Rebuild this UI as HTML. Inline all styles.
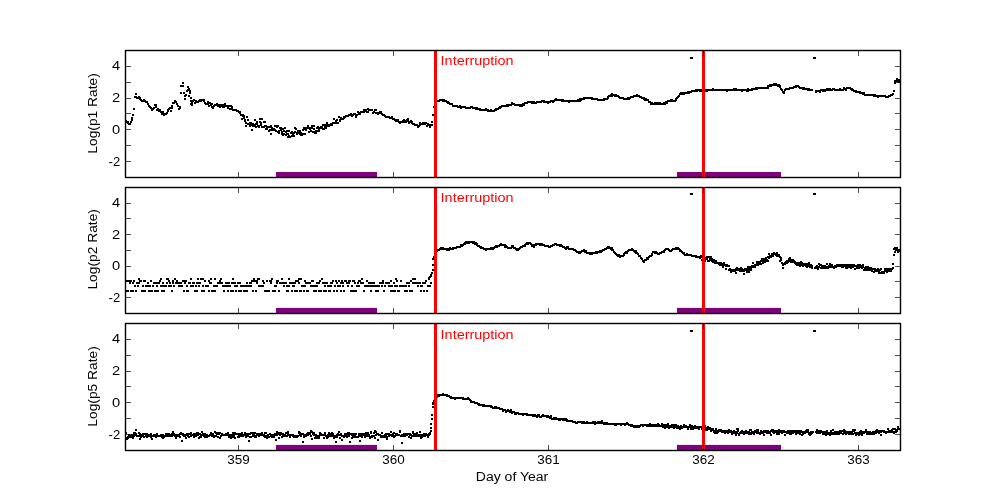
<!DOCTYPE html>
<html><head><meta charset="utf-8"><style>
html,body{margin:0;padding:0;background:#fff;width:1000px;height:500px;overflow:hidden}
svg{display:block}
text{font-family:"Liberation Sans",sans-serif}
</style></head><body>
<svg width="1000" height="500" viewBox="0 0 1000 500">
<path d="M125 120h2v2h-2zM125 290h2v2h-2zM125 432h2v2h-2zM126 121h2v2h-2zM126 280h2v2h-2zM126 290h2v2h-2zM126 437h2v2h-2zM126 438h2v2h-2zM127 121h2v2h-2zM127 122h2v2h-2zM127 290h2v2h-2zM127 436h2v2h-2zM127 437h2v2h-2zM128 123h2v2h-2zM128 280h2v2h-2zM128 434h2v2h-2zM129 123h2v2h-2zM129 282h2v2h-2zM129 435h2v2h-2zM129 436h2v2h-2zM130 121h2v2h-2zM130 280h2v2h-2zM130 290h2v2h-2zM130 436h2v2h-2zM131 117h2v2h-2zM131 119h2v2h-2zM131 290h2v2h-2zM131 434h2v2h-2zM131 436h2v2h-2zM132 114h2v2h-2zM132 282h2v2h-2zM132 290h2v2h-2zM132 434h2v2h-2zM132 437h2v2h-2zM133 108h2v2h-2zM133 280h2v2h-2zM133 432h2v2h-2zM133 435h2v2h-2zM134 96h2v2h-2zM134 285h2v2h-2zM134 432h2v2h-2zM134 434h2v2h-2zM135 93h2v2h-2zM135 96h2v2h-2zM135 290h2v2h-2zM135 429h2v2h-2zM135 433h2v2h-2zM136 97h2v2h-2zM136 282h2v2h-2zM136 435h2v2h-2zM137 97h2v2h-2zM137 285h2v2h-2zM137 435h2v2h-2zM138 96h2v2h-2zM138 278h2v2h-2zM138 282h2v2h-2zM138 432h2v2h-2zM138 435h2v2h-2zM139 97h2v2h-2zM139 98h2v2h-2zM139 280h2v2h-2zM139 433h2v2h-2zM139 438h2v2h-2zM140 99h2v2h-2zM140 280h2v2h-2zM140 434h2v2h-2zM140 436h2v2h-2zM141 100h2v2h-2zM141 290h2v2h-2zM141 435h2v2h-2zM142 100h2v2h-2zM142 285h2v2h-2zM142 290h2v2h-2zM142 433h2v2h-2zM142 435h2v2h-2zM143 99h2v2h-2zM143 100h2v2h-2zM143 280h2v2h-2zM143 433h2v2h-2zM143 436h2v2h-2zM144 100h2v2h-2zM144 280h2v2h-2zM144 290h2v2h-2zM144 433h2v2h-2zM145 101h2v2h-2zM145 285h2v2h-2zM145 433h2v2h-2zM145 435h2v2h-2zM146 101h2v2h-2zM146 285h2v2h-2zM146 433h2v2h-2zM146 436h2v2h-2zM147 103h2v2h-2zM147 282h2v2h-2zM147 435h2v2h-2zM148 105h2v2h-2zM148 285h2v2h-2zM148 290h2v2h-2zM148 434h2v2h-2zM149 106h2v2h-2zM149 285h2v2h-2zM149 434h2v2h-2zM149 435h2v2h-2zM150 107h2v2h-2zM150 280h2v2h-2zM150 290h2v2h-2zM150 433h2v2h-2zM150 436h2v2h-2zM151 108h2v2h-2zM151 109h2v2h-2zM151 290h2v2h-2zM151 435h2v2h-2zM151 438h2v2h-2zM152 108h2v2h-2zM152 285h2v2h-2zM152 435h2v2h-2zM153 107h2v2h-2zM153 282h2v2h-2zM153 434h2v2h-2zM153 435h2v2h-2zM154 104h2v2h-2zM154 282h2v2h-2zM154 290h2v2h-2zM154 434h2v2h-2zM154 435h2v2h-2zM155 104h2v2h-2zM155 106h2v2h-2zM155 290h2v2h-2zM155 435h2v2h-2zM155 436h2v2h-2zM156 109h2v2h-2zM156 282h2v2h-2zM156 285h2v2h-2zM156 433h2v2h-2zM156 434h2v2h-2zM157 108h2v2h-2zM157 290h2v2h-2zM157 435h2v2h-2zM158 110h2v2h-2zM158 282h2v2h-2zM158 435h2v2h-2zM159 109h2v2h-2zM159 110h2v2h-2zM159 280h2v2h-2zM159 435h2v2h-2zM160 111h2v2h-2zM160 278h2v2h-2zM160 285h2v2h-2zM160 434h2v2h-2zM161 113h2v2h-2zM161 290h2v2h-2zM161 434h2v2h-2zM161 436h2v2h-2zM162 111h2v2h-2zM162 282h2v2h-2zM162 285h2v2h-2zM162 434h2v2h-2zM162 437h2v2h-2zM163 113h2v2h-2zM163 114h2v2h-2zM163 290h2v2h-2zM163 436h2v2h-2zM164 113h2v2h-2zM164 285h2v2h-2zM164 435h2v2h-2zM165 113h2v2h-2zM165 285h2v2h-2zM165 433h2v2h-2zM165 434h2v2h-2zM166 112h2v2h-2zM166 278h2v2h-2zM166 282h2v2h-2zM166 434h2v2h-2zM166 435h2v2h-2zM167 109h2v2h-2zM167 110h2v2h-2zM167 278h2v2h-2zM167 433h2v2h-2zM167 435h2v2h-2zM168 108h2v2h-2zM168 280h2v2h-2zM168 285h2v2h-2zM168 433h2v2h-2zM168 434h2v2h-2zM169 107h2v2h-2zM169 282h2v2h-2zM169 435h2v2h-2zM170 110h2v2h-2zM170 285h2v2h-2zM170 434h2v2h-2zM170 435h2v2h-2zM171 105h2v2h-2zM171 107h2v2h-2zM171 290h2v2h-2zM171 433h2v2h-2zM171 435h2v2h-2zM172 102h2v2h-2zM172 280h2v2h-2zM172 282h2v2h-2zM172 431h2v2h-2zM172 434h2v2h-2zM173 102h2v2h-2zM173 285h2v2h-2zM173 433h2v2h-2zM173 434h2v2h-2zM174 100h2v2h-2zM174 278h2v2h-2zM174 435h2v2h-2zM175 101h2v2h-2zM175 282h2v2h-2zM175 434h2v2h-2zM175 437h2v2h-2zM176 103h2v2h-2zM176 280h2v2h-2zM176 434h2v2h-2zM176 435h2v2h-2zM177 105h2v2h-2zM177 282h2v2h-2zM177 434h2v2h-2zM178 108h2v2h-2zM178 282h2v2h-2zM178 285h2v2h-2zM178 435h2v2h-2zM179 106h2v2h-2zM179 107h2v2h-2zM179 285h2v2h-2zM179 433h2v2h-2zM179 436h2v2h-2zM180 85h2v2h-2zM180 92h2v2h-2zM180 282h2v2h-2zM180 285h2v2h-2zM180 432h2v2h-2zM181 285h2v2h-2zM181 433h2v2h-2zM181 440h2v2h-2zM182 82h2v2h-2zM182 85h2v2h-2zM182 280h2v2h-2zM182 433h2v2h-2zM182 434h2v2h-2zM183 92h2v2h-2zM183 290h2v2h-2zM183 435h2v2h-2zM184 95h2v2h-2zM184 98h2v2h-2zM184 280h2v2h-2zM184 282h2v2h-2zM184 434h2v2h-2zM184 435h2v2h-2zM185 94h2v2h-2zM185 280h2v2h-2zM185 437h2v2h-2zM186 90h2v2h-2zM186 285h2v2h-2zM186 290h2v2h-2zM186 433h2v2h-2zM186 434h2v2h-2zM187 86h2v2h-2zM187 89h2v2h-2zM187 290h2v2h-2zM187 434h2v2h-2zM187 435h2v2h-2zM188 88h2v2h-2zM188 95h2v2h-2zM188 282h2v2h-2zM188 433h2v2h-2zM188 436h2v2h-2zM189 90h2v2h-2zM189 92h2v2h-2zM189 282h2v2h-2zM189 433h2v2h-2zM190 97h2v2h-2zM190 100h2v2h-2zM190 103h2v2h-2zM190 278h2v2h-2zM190 285h2v2h-2zM190 432h2v2h-2zM190 435h2v2h-2zM191 102h2v2h-2zM191 104h2v2h-2zM191 285h2v2h-2zM191 434h2v2h-2zM192 100h2v2h-2zM192 282h2v2h-2zM192 285h2v2h-2zM192 434h2v2h-2zM193 99h2v2h-2zM193 282h2v2h-2zM193 433h2v2h-2zM193 436h2v2h-2zM194 102h2v2h-2zM194 290h2v2h-2zM194 433h2v2h-2zM194 434h2v2h-2zM195 100h2v2h-2zM195 285h2v2h-2zM195 434h2v2h-2zM195 435h2v2h-2zM196 101h2v2h-2zM196 282h2v2h-2zM196 290h2v2h-2zM196 432h2v2h-2zM197 101h2v2h-2zM197 278h2v2h-2zM197 432h2v2h-2zM197 434h2v2h-2zM198 100h2v2h-2zM198 282h2v2h-2zM198 285h2v2h-2zM198 433h2v2h-2zM198 437h2v2h-2zM199 99h2v2h-2zM199 282h2v2h-2zM199 433h2v2h-2zM199 436h2v2h-2zM200 100h2v2h-2zM200 278h2v2h-2zM200 435h2v2h-2zM200 436h2v2h-2zM201 99h2v2h-2zM201 290h2v2h-2zM201 431h2v2h-2zM201 434h2v2h-2zM202 99h2v2h-2zM202 278h2v2h-2zM202 285h2v2h-2zM202 433h2v2h-2zM203 99h2v2h-2zM203 100h2v2h-2zM203 290h2v2h-2zM203 435h2v2h-2zM204 102h2v2h-2zM204 280h2v2h-2zM204 433h2v2h-2zM204 436h2v2h-2zM205 103h2v2h-2zM205 285h2v2h-2zM205 434h2v2h-2zM205 436h2v2h-2zM206 103h2v2h-2zM206 285h2v2h-2zM206 434h2v2h-2zM206 436h2v2h-2zM207 101h2v2h-2zM207 103h2v2h-2zM207 285h2v2h-2zM207 435h2v2h-2zM208 105h2v2h-2zM208 280h2v2h-2zM208 290h2v2h-2zM208 435h2v2h-2zM209 102h2v2h-2zM209 282h2v2h-2zM209 434h2v2h-2zM210 104h2v2h-2zM210 278h2v2h-2zM210 282h2v2h-2zM210 432h2v2h-2zM211 103h2v2h-2zM211 106h2v2h-2zM211 290h2v2h-2zM211 434h2v2h-2zM211 435h2v2h-2zM212 107h2v2h-2zM212 290h2v2h-2zM212 433h2v2h-2zM212 435h2v2h-2zM213 105h2v2h-2zM213 285h2v2h-2zM213 436h2v2h-2zM214 104h2v2h-2zM214 278h2v2h-2zM214 290h2v2h-2zM214 431h2v2h-2zM214 435h2v2h-2zM215 104h2v2h-2zM215 285h2v2h-2zM215 432h2v2h-2zM215 435h2v2h-2zM216 103h2v2h-2zM216 285h2v2h-2zM216 432h2v2h-2zM216 433h2v2h-2zM217 105h2v2h-2zM217 282h2v2h-2zM217 432h2v2h-2zM217 436h2v2h-2zM218 104h2v2h-2zM218 282h2v2h-2zM218 433h2v2h-2zM219 104h2v2h-2zM219 106h2v2h-2zM219 280h2v2h-2zM219 432h2v2h-2zM219 437h2v2h-2zM220 105h2v2h-2zM220 278h2v2h-2zM220 282h2v2h-2zM220 435h2v2h-2zM221 104h2v2h-2zM221 282h2v2h-2zM221 433h2v2h-2zM221 434h2v2h-2zM222 106h2v2h-2zM222 285h2v2h-2zM222 434h2v2h-2zM223 104h2v2h-2zM223 106h2v2h-2zM223 290h2v2h-2zM223 434h2v2h-2zM224 103h2v2h-2zM224 285h2v2h-2zM224 434h2v2h-2zM225 105h2v2h-2zM225 282h2v2h-2zM225 433h2v2h-2zM226 105h2v2h-2zM226 282h2v2h-2zM226 285h2v2h-2zM226 433h2v2h-2zM226 434h2v2h-2zM227 105h2v2h-2zM227 107h2v2h-2zM227 290h2v2h-2zM227 432h2v2h-2zM227 434h2v2h-2zM228 105h2v2h-2zM228 282h2v2h-2zM228 285h2v2h-2zM228 434h2v2h-2zM228 436h2v2h-2zM229 108h2v2h-2zM229 285h2v2h-2zM229 435h2v2h-2zM230 105h2v2h-2zM230 290h2v2h-2zM230 434h2v2h-2zM230 437h2v2h-2zM231 106h2v2h-2zM231 108h2v2h-2zM231 282h2v2h-2zM231 434h2v2h-2zM231 436h2v2h-2zM232 109h2v2h-2zM232 278h2v2h-2zM232 290h2v2h-2zM232 432h2v2h-2zM232 433h2v2h-2zM233 109h2v2h-2zM233 282h2v2h-2zM233 434h2v2h-2zM233 436h2v2h-2zM234 109h2v2h-2zM234 282h2v2h-2zM234 285h2v2h-2zM234 432h2v2h-2zM234 437h2v2h-2zM235 109h2v2h-2zM235 290h2v2h-2zM235 433h2v2h-2zM236 110h2v2h-2zM236 285h2v2h-2zM236 433h2v2h-2zM237 110h2v2h-2zM237 282h2v2h-2zM237 433h2v2h-2zM237 436h2v2h-2zM238 111h2v2h-2zM238 282h2v2h-2zM238 290h2v2h-2zM238 434h2v2h-2zM238 436h2v2h-2zM239 111h2v2h-2zM239 112h2v2h-2zM239 282h2v2h-2zM239 433h2v2h-2zM239 434h2v2h-2zM240 114h2v2h-2zM240 285h2v2h-2zM240 290h2v2h-2zM240 435h2v2h-2zM241 114h2v2h-2zM241 118h2v2h-2zM241 285h2v2h-2zM241 432h2v2h-2zM241 434h2v2h-2zM242 114h2v2h-2zM242 115h2v2h-2zM242 285h2v2h-2zM242 435h2v2h-2zM243 115h2v2h-2zM243 117h2v2h-2zM243 290h2v2h-2zM243 434h2v2h-2zM244 119h2v2h-2zM244 120h2v2h-2zM244 285h2v2h-2zM244 290h2v2h-2zM244 432h2v2h-2zM244 433h2v2h-2zM245 122h2v2h-2zM245 125h2v2h-2zM245 285h2v2h-2zM245 434h2v2h-2zM245 436h2v2h-2zM246 116h2v2h-2zM246 282h2v2h-2zM246 290h2v2h-2zM246 433h2v2h-2zM247 119h2v2h-2zM247 123h2v2h-2zM247 285h2v2h-2zM247 434h2v2h-2zM247 435h2v2h-2zM248 123h2v2h-2zM248 285h2v2h-2zM248 433h2v2h-2zM248 440h2v2h-2zM249 122h2v2h-2zM249 125h2v2h-2zM249 282h2v2h-2zM249 433h2v2h-2zM249 436h2v2h-2zM250 122h2v2h-2zM250 124h2v2h-2zM250 282h2v2h-2zM250 285h2v2h-2zM250 432h2v2h-2zM250 436h2v2h-2zM251 129h2v2h-2zM251 280h2v2h-2zM251 432h2v2h-2zM252 123h2v2h-2zM252 125h2v2h-2zM252 280h2v2h-2zM252 290h2v2h-2zM252 433h2v2h-2zM252 435h2v2h-2zM253 124h2v2h-2zM253 278h2v2h-2zM253 432h2v2h-2zM253 434h2v2h-2zM254 119h2v2h-2zM254 125h2v2h-2zM254 280h2v2h-2zM254 432h2v2h-2zM254 436h2v2h-2zM255 123h2v2h-2zM255 126h2v2h-2zM255 290h2v2h-2zM255 435h2v2h-2zM255 436h2v2h-2zM256 121h2v2h-2zM256 123h2v2h-2zM256 280h2v2h-2zM256 282h2v2h-2zM256 433h2v2h-2zM256 434h2v2h-2zM257 125h2v2h-2zM257 278h2v2h-2zM257 434h2v2h-2zM258 125h2v2h-2zM258 126h2v2h-2zM258 278h2v2h-2zM258 285h2v2h-2zM258 433h2v2h-2zM258 435h2v2h-2zM259 118h2v2h-2zM259 121h2v2h-2zM259 285h2v2h-2zM259 434h2v2h-2zM260 122h2v2h-2zM260 124h2v2h-2zM260 285h2v2h-2zM260 433h2v2h-2zM260 434h2v2h-2zM261 118h2v2h-2zM261 126h2v2h-2zM261 285h2v2h-2zM261 432h2v2h-2zM261 433h2v2h-2zM262 126h2v2h-2zM262 280h2v2h-2zM262 285h2v2h-2zM262 434h2v2h-2zM263 121h2v2h-2zM263 126h2v2h-2zM263 282h2v2h-2zM263 434h2v2h-2zM263 435h2v2h-2zM264 121h2v2h-2zM264 125h2v2h-2zM264 290h2v2h-2zM264 432h2v2h-2zM264 436h2v2h-2zM265 125h2v2h-2zM265 128h2v2h-2zM265 290h2v2h-2zM265 432h2v2h-2zM265 435h2v2h-2zM266 126h2v2h-2zM266 128h2v2h-2zM266 280h2v2h-2zM266 436h2v2h-2zM266 437h2v2h-2zM267 126h2v2h-2zM267 290h2v2h-2zM267 434h2v2h-2zM268 130h2v2h-2zM268 290h2v2h-2zM268 436h2v2h-2zM269 126h2v2h-2zM269 129h2v2h-2zM269 280h2v2h-2zM269 433h2v2h-2zM270 125h2v2h-2zM270 133h2v2h-2zM270 280h2v2h-2zM270 282h2v2h-2zM270 434h2v2h-2zM270 435h2v2h-2zM271 127h2v2h-2zM271 129h2v2h-2zM271 278h2v2h-2zM271 434h2v2h-2zM271 436h2v2h-2zM272 128h2v2h-2zM272 129h2v2h-2zM272 290h2v2h-2zM272 434h2v2h-2zM272 435h2v2h-2zM273 128h2v2h-2zM273 290h2v2h-2zM273 436h2v2h-2zM274 125h2v2h-2zM274 129h2v2h-2zM274 285h2v2h-2zM274 290h2v2h-2zM274 433h2v2h-2zM274 434h2v2h-2zM275 125h2v2h-2zM275 130h2v2h-2zM275 285h2v2h-2zM275 433h2v2h-2zM275 439h2v2h-2zM276 126h2v2h-2zM276 280h2v2h-2zM276 282h2v2h-2zM276 431h2v2h-2zM276 434h2v2h-2zM277 125h2v2h-2zM277 131h2v2h-2zM277 280h2v2h-2zM277 433h2v2h-2zM278 130h2v2h-2zM278 132h2v2h-2zM278 290h2v2h-2zM278 432h2v2h-2zM278 437h2v2h-2zM279 127h2v2h-2zM279 282h2v2h-2zM279 434h2v2h-2zM280 127h2v2h-2zM280 129h2v2h-2zM280 282h2v2h-2zM280 432h2v2h-2zM280 433h2v2h-2zM281 131h2v2h-2zM281 133h2v2h-2zM281 278h2v2h-2zM281 433h2v2h-2zM281 436h2v2h-2zM282 128h2v2h-2zM282 134h2v2h-2zM282 282h2v2h-2zM282 433h2v2h-2zM282 435h2v2h-2zM283 130h2v2h-2zM283 133h2v2h-2zM283 285h2v2h-2zM283 434h2v2h-2zM283 435h2v2h-2zM284 127h2v2h-2zM284 282h2v2h-2zM284 434h2v2h-2zM285 131h2v2h-2zM285 134h2v2h-2zM285 282h2v2h-2zM285 432h2v2h-2zM285 435h2v2h-2zM286 130h2v2h-2zM286 133h2v2h-2zM286 285h2v2h-2zM286 290h2v2h-2zM286 435h2v2h-2zM287 133h2v2h-2zM287 136h2v2h-2zM287 290h2v2h-2zM287 431h2v2h-2zM287 433h2v2h-2zM288 130h2v2h-2zM288 135h2v2h-2zM288 278h2v2h-2zM288 285h2v2h-2zM288 434h2v2h-2zM289 136h2v2h-2zM289 282h2v2h-2zM289 434h2v2h-2zM289 436h2v2h-2zM290 132h2v2h-2zM290 282h2v2h-2zM290 434h2v2h-2zM291 131h2v2h-2zM291 135h2v2h-2zM291 290h2v2h-2zM291 434h2v2h-2zM292 133h2v2h-2zM292 282h2v2h-2zM292 285h2v2h-2zM292 434h2v2h-2zM292 435h2v2h-2zM293 132h2v2h-2zM293 135h2v2h-2zM293 285h2v2h-2zM293 435h2v2h-2zM293 436h2v2h-2zM294 127h2v2h-2zM294 131h2v2h-2zM294 282h2v2h-2zM294 290h2v2h-2zM294 435h2v2h-2zM294 436h2v2h-2zM295 128h2v2h-2zM295 280h2v2h-2zM295 436h2v2h-2zM296 132h2v2h-2zM296 133h2v2h-2zM296 290h2v2h-2zM296 435h2v2h-2zM296 436h2v2h-2zM297 130h2v2h-2zM297 131h2v2h-2zM297 280h2v2h-2zM297 435h2v2h-2zM298 130h2v2h-2zM298 132h2v2h-2zM298 278h2v2h-2zM298 282h2v2h-2zM298 431h2v2h-2zM298 432h2v2h-2zM299 130h2v2h-2zM299 133h2v2h-2zM299 290h2v2h-2zM299 432h2v2h-2zM299 434h2v2h-2zM300 132h2v2h-2zM300 134h2v2h-2zM300 278h2v2h-2zM300 290h2v2h-2zM300 434h2v2h-2zM300 435h2v2h-2zM301 134h2v2h-2zM301 285h2v2h-2zM301 433h2v2h-2zM302 129h2v2h-2zM302 133h2v2h-2zM302 285h2v2h-2zM302 433h2v2h-2zM302 441h2v2h-2zM303 127h2v2h-2zM303 128h2v2h-2zM303 290h2v2h-2zM303 435h2v2h-2zM303 436h2v2h-2zM304 127h2v2h-2zM304 133h2v2h-2zM304 280h2v2h-2zM304 285h2v2h-2zM304 434h2v2h-2zM305 127h2v2h-2zM305 129h2v2h-2zM305 282h2v2h-2zM305 434h2v2h-2zM305 435h2v2h-2zM306 127h2v2h-2zM306 282h2v2h-2zM306 290h2v2h-2zM306 433h2v2h-2zM307 125h2v2h-2zM307 127h2v2h-2zM307 290h2v2h-2zM307 432h2v2h-2zM307 434h2v2h-2zM308 127h2v2h-2zM308 131h2v2h-2zM308 282h2v2h-2zM308 433h2v2h-2zM309 127h2v2h-2zM309 128h2v2h-2zM309 282h2v2h-2zM309 432h2v2h-2zM309 433h2v2h-2zM310 127h2v2h-2zM310 130h2v2h-2zM310 285h2v2h-2zM310 430h2v2h-2zM310 435h2v2h-2zM311 125h2v2h-2zM311 127h2v2h-2zM311 280h2v2h-2zM311 431h2v2h-2zM311 438h2v2h-2zM312 131h2v2h-2zM312 280h2v2h-2zM312 285h2v2h-2zM312 433h2v2h-2zM313 125h2v2h-2zM313 128h2v2h-2zM313 290h2v2h-2zM313 432h2v2h-2zM313 434h2v2h-2zM314 131h2v2h-2zM314 132h2v2h-2zM314 285h2v2h-2zM314 434h2v2h-2zM314 437h2v2h-2zM315 130h2v2h-2zM315 132h2v2h-2zM315 290h2v2h-2zM315 434h2v2h-2zM315 436h2v2h-2zM316 127h2v2h-2zM316 130h2v2h-2zM316 282h2v2h-2zM316 285h2v2h-2zM316 435h2v2h-2zM316 437h2v2h-2zM317 126h2v2h-2zM317 282h2v2h-2zM317 436h2v2h-2zM318 128h2v2h-2zM318 130h2v2h-2zM318 282h2v2h-2zM318 290h2v2h-2zM318 435h2v2h-2zM318 437h2v2h-2zM319 127h2v2h-2zM319 280h2v2h-2zM319 432h2v2h-2zM319 434h2v2h-2zM320 126h2v2h-2zM320 127h2v2h-2zM320 290h2v2h-2zM320 433h2v2h-2zM320 434h2v2h-2zM321 126h2v2h-2zM321 127h2v2h-2zM321 278h2v2h-2zM321 434h2v2h-2zM322 124h2v2h-2zM322 128h2v2h-2zM322 282h2v2h-2zM322 434h2v2h-2zM323 128h2v2h-2zM323 290h2v2h-2zM323 437h2v2h-2zM324 124h2v2h-2zM324 126h2v2h-2zM324 282h2v2h-2zM324 285h2v2h-2zM324 432h2v2h-2zM324 434h2v2h-2zM325 126h2v2h-2zM325 127h2v2h-2zM325 290h2v2h-2zM325 435h2v2h-2zM326 122h2v2h-2zM326 124h2v2h-2zM326 282h2v2h-2zM326 435h2v2h-2zM326 437h2v2h-2zM327 124h2v2h-2zM327 125h2v2h-2zM327 285h2v2h-2zM327 434h2v2h-2zM327 436h2v2h-2zM328 125h2v2h-2zM328 285h2v2h-2zM328 290h2v2h-2zM328 432h2v2h-2zM329 124h2v2h-2zM329 290h2v2h-2zM329 433h2v2h-2zM329 435h2v2h-2zM330 123h2v2h-2zM330 282h2v2h-2zM330 285h2v2h-2zM330 434h2v2h-2zM330 435h2v2h-2zM331 123h2v2h-2zM331 124h2v2h-2zM331 282h2v2h-2zM331 432h2v2h-2zM331 435h2v2h-2zM332 122h2v2h-2zM332 280h2v2h-2zM332 433h2v2h-2zM332 435h2v2h-2zM333 118h2v2h-2zM333 290h2v2h-2zM333 435h2v2h-2zM333 437h2v2h-2zM334 122h2v2h-2zM334 285h2v2h-2zM334 435h2v2h-2zM335 120h2v2h-2zM335 122h2v2h-2zM335 280h2v2h-2zM335 436h2v2h-2zM335 441h2v2h-2zM336 119h2v2h-2zM336 282h2v2h-2zM336 290h2v2h-2zM336 434h2v2h-2zM336 436h2v2h-2zM337 122h2v2h-2zM337 285h2v2h-2zM337 433h2v2h-2zM337 434h2v2h-2zM338 116h2v2h-2zM338 280h2v2h-2zM338 431h2v2h-2zM338 434h2v2h-2zM339 119h2v2h-2zM339 120h2v2h-2zM339 285h2v2h-2zM339 437h2v2h-2zM340 117h2v2h-2zM340 282h2v2h-2zM340 290h2v2h-2zM340 433h2v2h-2zM340 434h2v2h-2zM341 118h2v2h-2zM341 280h2v2h-2zM341 435h2v2h-2zM341 439h2v2h-2zM342 118h2v2h-2zM342 282h2v2h-2zM342 285h2v2h-2zM342 435h2v2h-2zM343 116h2v2h-2zM343 117h2v2h-2zM343 290h2v2h-2zM343 435h2v2h-2zM343 436h2v2h-2zM344 116h2v2h-2zM344 280h2v2h-2zM344 433h2v2h-2zM344 434h2v2h-2zM345 115h2v2h-2zM345 280h2v2h-2zM345 435h2v2h-2zM346 115h2v2h-2zM346 282h2v2h-2zM346 433h2v2h-2zM346 436h2v2h-2zM347 115h2v2h-2zM347 285h2v2h-2zM347 432h2v2h-2zM347 434h2v2h-2zM348 114h2v2h-2zM348 280h2v2h-2zM348 282h2v2h-2zM348 432h2v2h-2zM348 435h2v2h-2zM349 114h2v2h-2zM349 280h2v2h-2zM349 433h2v2h-2zM349 441h2v2h-2zM350 113h2v2h-2zM350 290h2v2h-2zM350 433h2v2h-2zM351 114h2v2h-2zM351 115h2v2h-2zM351 285h2v2h-2zM351 434h2v2h-2zM351 437h2v2h-2zM352 114h2v2h-2zM352 280h2v2h-2zM352 290h2v2h-2zM352 433h2v2h-2zM352 436h2v2h-2zM353 113h2v2h-2zM353 280h2v2h-2zM353 433h2v2h-2zM353 435h2v2h-2zM354 113h2v2h-2zM354 282h2v2h-2zM354 290h2v2h-2zM354 434h2v2h-2zM354 436h2v2h-2zM355 115h2v2h-2zM355 116h2v2h-2zM355 290h2v2h-2zM355 433h2v2h-2zM356 114h2v2h-2zM356 285h2v2h-2zM356 436h2v2h-2zM357 111h2v2h-2zM357 282h2v2h-2zM357 436h2v2h-2zM358 113h2v2h-2zM358 280h2v2h-2zM358 285h2v2h-2zM358 433h2v2h-2zM358 435h2v2h-2zM359 112h2v2h-2zM359 113h2v2h-2zM359 280h2v2h-2zM359 435h2v2h-2zM359 440h2v2h-2zM360 111h2v2h-2zM360 282h2v2h-2zM360 433h2v2h-2zM360 434h2v2h-2zM361 111h2v2h-2zM361 278h2v2h-2zM361 436h2v2h-2zM362 111h2v2h-2zM362 282h2v2h-2zM362 433h2v2h-2zM362 434h2v2h-2zM363 109h2v2h-2zM363 111h2v2h-2zM363 290h2v2h-2zM363 433h2v2h-2zM363 434h2v2h-2zM364 110h2v2h-2zM364 285h2v2h-2zM364 434h2v2h-2zM364 436h2v2h-2zM365 109h2v2h-2zM365 285h2v2h-2zM365 432h2v2h-2zM365 435h2v2h-2zM366 111h2v2h-2zM366 280h2v2h-2zM366 285h2v2h-2zM366 434h2v2h-2zM366 435h2v2h-2zM367 108h2v2h-2zM367 111h2v2h-2zM367 285h2v2h-2zM367 432h2v2h-2zM368 109h2v2h-2zM368 282h2v2h-2zM368 434h2v2h-2zM368 435h2v2h-2zM369 109h2v2h-2zM369 285h2v2h-2zM369 436h2v2h-2zM369 437h2v2h-2zM370 109h2v2h-2zM370 282h2v2h-2zM370 290h2v2h-2zM370 431h2v2h-2zM370 432h2v2h-2zM371 109h2v2h-2zM371 285h2v2h-2zM371 435h2v2h-2zM371 436h2v2h-2zM372 112h2v2h-2zM372 282h2v2h-2zM372 285h2v2h-2zM372 435h2v2h-2zM373 111h2v2h-2zM373 282h2v2h-2zM373 432h2v2h-2zM373 435h2v2h-2zM374 109h2v2h-2zM374 285h2v2h-2zM374 430h2v2h-2zM374 437h2v2h-2zM375 109h2v2h-2zM375 112h2v2h-2zM375 290h2v2h-2zM375 431h2v2h-2zM375 434h2v2h-2zM376 112h2v2h-2zM376 285h2v2h-2zM376 290h2v2h-2zM376 433h2v2h-2zM377 113h2v2h-2zM377 290h2v2h-2zM377 433h2v2h-2zM377 439h2v2h-2zM378 112h2v2h-2zM378 285h2v2h-2zM378 434h2v2h-2zM379 111h2v2h-2zM379 112h2v2h-2zM379 282h2v2h-2zM379 434h2v2h-2zM380 111h2v2h-2zM380 282h2v2h-2zM380 435h2v2h-2zM380 436h2v2h-2zM381 113h2v2h-2zM381 285h2v2h-2zM381 432h2v2h-2zM381 435h2v2h-2zM382 114h2v2h-2zM382 280h2v2h-2zM382 282h2v2h-2zM382 435h2v2h-2zM382 436h2v2h-2zM383 114h2v2h-2zM383 290h2v2h-2zM383 435h2v2h-2zM384 115h2v2h-2zM384 285h2v2h-2zM384 434h2v2h-2zM384 436h2v2h-2zM385 116h2v2h-2zM385 282h2v2h-2zM385 433h2v2h-2zM385 435h2v2h-2zM386 116h2v2h-2zM386 282h2v2h-2zM386 436h2v2h-2zM386 438h2v2h-2zM387 116h2v2h-2zM387 282h2v2h-2zM387 433h2v2h-2zM388 116h2v2h-2zM388 282h2v2h-2zM388 285h2v2h-2zM388 433h2v2h-2zM388 435h2v2h-2zM389 117h2v2h-2zM389 285h2v2h-2zM389 434h2v2h-2zM390 117h2v2h-2zM390 280h2v2h-2zM390 290h2v2h-2zM390 431h2v2h-2zM390 434h2v2h-2zM391 116h2v2h-2zM391 117h2v2h-2zM391 285h2v2h-2zM391 435h2v2h-2zM392 118h2v2h-2zM392 290h2v2h-2zM392 433h2v2h-2zM392 435h2v2h-2zM393 118h2v2h-2zM393 282h2v2h-2zM393 432h2v2h-2zM393 436h2v2h-2zM394 119h2v2h-2zM394 285h2v2h-2zM394 290h2v2h-2zM394 435h2v2h-2zM395 119h2v2h-2zM395 120h2v2h-2zM395 278h2v2h-2zM395 433h2v2h-2zM395 434h2v2h-2zM396 120h2v2h-2zM396 280h2v2h-2zM396 285h2v2h-2zM396 433h2v2h-2zM396 434h2v2h-2zM397 119h2v2h-2zM397 290h2v2h-2zM397 434h2v2h-2zM398 121h2v2h-2zM398 290h2v2h-2zM398 434h2v2h-2zM399 121h2v2h-2zM399 122h2v2h-2zM399 285h2v2h-2zM399 430h2v2h-2zM399 431h2v2h-2zM400 121h2v2h-2zM400 280h2v2h-2zM400 285h2v2h-2zM400 435h2v2h-2zM401 121h2v2h-2zM401 285h2v2h-2zM401 434h2v2h-2zM401 442h2v2h-2zM402 120h2v2h-2zM402 285h2v2h-2zM402 435h2v2h-2zM403 119h2v2h-2zM403 121h2v2h-2zM403 285h2v2h-2zM403 433h2v2h-2zM403 435h2v2h-2zM404 120h2v2h-2zM404 290h2v2h-2zM404 435h2v2h-2zM405 121h2v2h-2zM405 285h2v2h-2zM405 433h2v2h-2zM406 119h2v2h-2zM406 282h2v2h-2zM406 290h2v2h-2zM406 433h2v2h-2zM406 434h2v2h-2zM407 118h2v2h-2zM407 120h2v2h-2zM407 282h2v2h-2zM407 433h2v2h-2zM408 122h2v2h-2zM408 282h2v2h-2zM408 285h2v2h-2zM408 433h2v2h-2zM408 436h2v2h-2zM409 121h2v2h-2zM409 290h2v2h-2zM409 433h2v2h-2zM409 434h2v2h-2zM410 120h2v2h-2zM410 280h2v2h-2zM410 434h2v2h-2zM410 437h2v2h-2zM411 121h2v2h-2zM411 122h2v2h-2zM411 290h2v2h-2zM411 435h2v2h-2zM412 123h2v2h-2zM412 278h2v2h-2zM412 282h2v2h-2zM412 431h2v2h-2zM412 432h2v2h-2zM413 123h2v2h-2zM413 282h2v2h-2zM413 434h2v2h-2zM413 435h2v2h-2zM414 124h2v2h-2zM414 278h2v2h-2zM414 282h2v2h-2zM414 433h2v2h-2zM414 434h2v2h-2zM415 124h2v2h-2zM415 282h2v2h-2zM415 434h2v2h-2zM415 435h2v2h-2zM416 124h2v2h-2zM416 282h2v2h-2zM416 432h2v2h-2zM417 126h2v2h-2zM417 285h2v2h-2zM417 434h2v2h-2zM417 435h2v2h-2zM418 125h2v2h-2zM418 282h2v2h-2zM418 434h2v2h-2zM418 435h2v2h-2zM419 122h2v2h-2zM419 124h2v2h-2zM419 282h2v2h-2zM419 431h2v2h-2zM419 435h2v2h-2zM420 123h2v2h-2zM420 285h2v2h-2zM420 290h2v2h-2zM420 434h2v2h-2zM420 437h2v2h-2zM421 123h2v2h-2zM421 285h2v2h-2zM421 435h2v2h-2zM421 436h2v2h-2zM422 122h2v2h-2zM422 282h2v2h-2zM422 434h2v2h-2zM423 122h2v2h-2zM423 123h2v2h-2zM423 290h2v2h-2zM423 433h2v2h-2zM423 435h2v2h-2zM424 123h2v2h-2zM424 282h2v2h-2zM424 434h2v2h-2zM424 435h2v2h-2zM425 122h2v2h-2zM425 280h2v2h-2zM425 433h2v2h-2zM425 434h2v2h-2zM426 125h2v2h-2zM426 290h2v2h-2zM426 434h2v2h-2zM427 123h2v2h-2zM427 124h2v2h-2zM427 285h2v2h-2zM427 436h2v2h-2zM428 124h2v2h-2zM428 277h2v2h-2zM428 278h2v2h-2zM428 285h2v2h-2zM428 433h2v2h-2zM428 434h2v2h-2zM429 126h2v2h-2zM429 276h2v2h-2zM429 285h2v2h-2zM429 432h2v2h-2zM429 433h2v2h-2zM430 124h2v2h-2zM430 274h2v2h-2zM430 275h2v2h-2zM430 282h2v2h-2zM430 423h2v2h-2zM430 427h2v2h-2zM430 430h2v2h-2zM431 121h2v2h-2zM431 124h2v2h-2zM431 272h2v2h-2zM431 414h2v2h-2zM431 418h2v2h-2zM432 114h2v2h-2zM432 258h2v2h-2zM432 264h2v2h-2zM432 269h2v2h-2zM432 402h2v2h-2zM432 403h2v2h-2zM432 406h2v2h-2zM433 106h2v2h-2zM433 256h2v2h-2zM433 400h2v2h-2zM433 401h2v2h-2zM434 104h2v2h-2zM434 251h2v2h-2zM434 253h2v2h-2zM434 397h2v2h-2zM434 398h2v2h-2zM435 101h2v2h-2zM435 102h2v2h-2zM435 251h2v2h-2zM435 397h2v2h-2zM436 100h2v2h-2zM436 250h2v2h-2zM436 396h2v2h-2zM437 100h2v2h-2zM437 249h2v2h-2zM437 394h2v2h-2zM438 100h2v2h-2zM438 249h2v2h-2zM438 395h2v2h-2zM439 99h2v2h-2zM439 248h2v2h-2zM439 394h2v2h-2zM440 99h2v2h-2zM440 247h2v2h-2zM440 248h2v2h-2zM440 394h2v2h-2zM441 99h2v2h-2zM441 248h2v2h-2zM441 394h2v2h-2zM442 100h2v2h-2zM442 247h2v2h-2zM442 393h2v2h-2zM442 394h2v2h-2zM443 99h2v2h-2zM443 100h2v2h-2zM443 248h2v2h-2zM443 394h2v2h-2zM444 100h2v2h-2zM444 248h2v2h-2zM444 394h2v2h-2zM445 100h2v2h-2zM445 248h2v2h-2zM445 394h2v2h-2zM446 101h2v2h-2zM446 249h2v2h-2zM446 394h2v2h-2zM446 395h2v2h-2zM447 101h2v2h-2zM447 102h2v2h-2zM447 248h2v2h-2zM447 395h2v2h-2zM448 102h2v2h-2zM448 248h2v2h-2zM448 249h2v2h-2zM448 395h2v2h-2zM449 103h2v2h-2zM449 247h2v2h-2zM449 396h2v2h-2zM450 103h2v2h-2zM450 248h2v2h-2zM450 396h2v2h-2zM450 397h2v2h-2zM451 103h2v2h-2zM451 248h2v2h-2zM451 397h2v2h-2zM452 105h2v2h-2zM452 247h2v2h-2zM452 248h2v2h-2zM452 397h2v2h-2zM453 105h2v2h-2zM453 247h2v2h-2zM453 397h2v2h-2zM454 105h2v2h-2zM454 247h2v2h-2zM454 397h2v2h-2zM454 398h2v2h-2zM455 105h2v2h-2zM455 247h2v2h-2zM455 397h2v2h-2zM456 105h2v2h-2zM456 246h2v2h-2zM456 397h2v2h-2zM457 106h2v2h-2zM457 246h2v2h-2zM457 397h2v2h-2zM458 106h2v2h-2zM458 246h2v2h-2zM458 397h2v2h-2zM459 105h2v2h-2zM459 106h2v2h-2zM459 246h2v2h-2zM459 397h2v2h-2zM460 107h2v2h-2zM460 244h2v2h-2zM460 245h2v2h-2zM460 397h2v2h-2zM461 106h2v2h-2zM461 245h2v2h-2zM461 397h2v2h-2zM462 106h2v2h-2zM462 244h2v2h-2zM462 397h2v2h-2zM462 398h2v2h-2zM463 106h2v2h-2zM463 243h2v2h-2zM463 398h2v2h-2zM464 106h2v2h-2zM464 242h2v2h-2zM464 243h2v2h-2zM464 398h2v2h-2zM465 107h2v2h-2zM465 241h2v2h-2zM465 398h2v2h-2zM466 107h2v2h-2zM466 242h2v2h-2zM466 398h2v2h-2zM467 107h2v2h-2zM467 241h2v2h-2zM467 397h2v2h-2zM468 107h2v2h-2zM468 241h2v2h-2zM468 242h2v2h-2zM468 398h2v2h-2zM469 107h2v2h-2zM469 241h2v2h-2zM469 399h2v2h-2zM470 106h2v2h-2zM470 241h2v2h-2zM470 400h2v2h-2zM470 401h2v2h-2zM471 106h2v2h-2zM471 241h2v2h-2zM471 401h2v2h-2zM472 107h2v2h-2zM472 241h2v2h-2zM472 242h2v2h-2zM472 401h2v2h-2zM473 107h2v2h-2zM473 241h2v2h-2zM473 401h2v2h-2zM474 107h2v2h-2zM474 243h2v2h-2zM474 402h2v2h-2zM475 107h2v2h-2zM475 108h2v2h-2zM475 242h2v2h-2zM475 402h2v2h-2zM476 107h2v2h-2zM476 243h2v2h-2zM476 244h2v2h-2zM476 402h2v2h-2zM477 108h2v2h-2zM477 245h2v2h-2zM477 403h2v2h-2zM478 108h2v2h-2zM478 245h2v2h-2zM478 403h2v2h-2zM478 404h2v2h-2zM479 108h2v2h-2zM479 109h2v2h-2zM479 246h2v2h-2zM479 404h2v2h-2zM480 109h2v2h-2zM480 246h2v2h-2zM480 247h2v2h-2zM480 404h2v2h-2zM481 109h2v2h-2zM481 247h2v2h-2zM481 404h2v2h-2zM482 109h2v2h-2zM482 247h2v2h-2zM482 405h2v2h-2zM483 109h2v2h-2zM483 248h2v2h-2zM483 404h2v2h-2zM484 109h2v2h-2zM484 248h2v2h-2zM484 405h2v2h-2zM485 108h2v2h-2zM485 249h2v2h-2zM485 405h2v2h-2zM486 109h2v2h-2zM486 248h2v2h-2zM486 405h2v2h-2zM487 109h2v2h-2zM487 110h2v2h-2zM487 248h2v2h-2zM487 405h2v2h-2zM488 110h2v2h-2zM488 248h2v2h-2zM488 405h2v2h-2zM489 110h2v2h-2zM489 248h2v2h-2zM489 405h2v2h-2zM490 109h2v2h-2zM490 247h2v2h-2zM490 405h2v2h-2zM490 406h2v2h-2zM491 110h2v2h-2zM491 248h2v2h-2zM491 406h2v2h-2zM492 110h2v2h-2zM492 247h2v2h-2zM492 248h2v2h-2zM492 407h2v2h-2zM493 110h2v2h-2zM493 247h2v2h-2zM493 407h2v2h-2zM494 109h2v2h-2zM494 246h2v2h-2zM494 406h2v2h-2zM494 407h2v2h-2zM495 108h2v2h-2zM495 109h2v2h-2zM495 245h2v2h-2zM495 406h2v2h-2zM496 108h2v2h-2zM496 245h2v2h-2zM496 246h2v2h-2zM496 407h2v2h-2zM497 108h2v2h-2zM497 245h2v2h-2zM497 407h2v2h-2zM498 107h2v2h-2zM498 245h2v2h-2zM498 407h2v2h-2zM499 106h2v2h-2zM499 107h2v2h-2zM499 244h2v2h-2zM499 408h2v2h-2zM500 106h2v2h-2zM500 243h2v2h-2zM500 408h2v2h-2zM501 105h2v2h-2zM501 244h2v2h-2zM501 408h2v2h-2zM502 105h2v2h-2zM502 244h2v2h-2zM502 409h2v2h-2zM502 410h2v2h-2zM503 105h2v2h-2zM503 244h2v2h-2zM503 409h2v2h-2zM504 105h2v2h-2zM504 244h2v2h-2zM504 246h2v2h-2zM504 409h2v2h-2zM505 105h2v2h-2zM505 245h2v2h-2zM505 411h2v2h-2zM506 104h2v2h-2zM506 246h2v2h-2zM506 410h2v2h-2zM507 104h2v2h-2zM507 105h2v2h-2zM507 247h2v2h-2zM507 409h2v2h-2zM508 104h2v2h-2zM508 247h2v2h-2zM508 410h2v2h-2zM509 104h2v2h-2zM509 247h2v2h-2zM509 411h2v2h-2zM510 104h2v2h-2zM510 247h2v2h-2zM510 409h2v2h-2zM510 411h2v2h-2zM511 102h2v2h-2zM511 103h2v2h-2zM511 245h2v2h-2zM511 412h2v2h-2zM512 103h2v2h-2zM512 245h2v2h-2zM512 246h2v2h-2zM512 411h2v2h-2zM513 103h2v2h-2zM513 247h2v2h-2zM513 411h2v2h-2zM514 104h2v2h-2zM514 247h2v2h-2zM514 412h2v2h-2zM514 413h2v2h-2zM515 104h2v2h-2zM515 248h2v2h-2zM515 413h2v2h-2zM516 104h2v2h-2zM516 248h2v2h-2zM516 249h2v2h-2zM516 412h2v2h-2zM517 104h2v2h-2zM517 249h2v2h-2zM517 412h2v2h-2zM518 104h2v2h-2zM518 248h2v2h-2zM518 413h2v2h-2zM519 104h2v2h-2zM519 105h2v2h-2zM519 247h2v2h-2zM519 413h2v2h-2zM520 104h2v2h-2zM520 246h2v2h-2zM520 413h2v2h-2zM521 105h2v2h-2zM521 246h2v2h-2zM521 413h2v2h-2zM522 103h2v2h-2zM522 245h2v2h-2zM522 413h2v2h-2zM522 414h2v2h-2zM523 103h2v2h-2zM523 104h2v2h-2zM523 245h2v2h-2zM523 413h2v2h-2zM524 102h2v2h-2zM524 244h2v2h-2zM524 245h2v2h-2zM524 413h2v2h-2zM525 102h2v2h-2zM525 243h2v2h-2zM525 413h2v2h-2zM526 102h2v2h-2zM526 242h2v2h-2zM526 413h2v2h-2zM526 414h2v2h-2zM527 101h2v2h-2zM527 243h2v2h-2zM527 414h2v2h-2zM528 101h2v2h-2zM528 242h2v2h-2zM528 414h2v2h-2zM529 101h2v2h-2zM529 242h2v2h-2zM529 414h2v2h-2zM530 101h2v2h-2zM530 243h2v2h-2zM530 414h2v2h-2zM531 101h2v2h-2zM531 102h2v2h-2zM531 244h2v2h-2zM531 245h2v2h-2zM531 414h2v2h-2zM532 102h2v2h-2zM532 244h2v2h-2zM532 415h2v2h-2zM533 101h2v2h-2zM533 246h2v2h-2zM533 414h2v2h-2zM534 102h2v2h-2zM534 244h2v2h-2zM534 414h2v2h-2zM534 415h2v2h-2zM535 102h2v2h-2zM535 243h2v2h-2zM535 244h2v2h-2zM535 415h2v2h-2zM536 101h2v2h-2zM536 243h2v2h-2zM536 416h2v2h-2zM537 101h2v2h-2zM537 243h2v2h-2zM537 414h2v2h-2zM538 101h2v2h-2zM538 243h2v2h-2zM538 414h2v2h-2zM538 415h2v2h-2zM539 101h2v2h-2zM539 243h2v2h-2zM539 244h2v2h-2zM539 416h2v2h-2zM540 101h2v2h-2zM540 244h2v2h-2zM540 416h2v2h-2zM541 100h2v2h-2zM541 243h2v2h-2zM541 415h2v2h-2zM542 100h2v2h-2zM542 244h2v2h-2zM542 414h2v2h-2zM542 415h2v2h-2zM543 100h2v2h-2zM543 101h2v2h-2zM543 244h2v2h-2zM543 415h2v2h-2zM544 101h2v2h-2zM544 245h2v2h-2zM544 415h2v2h-2zM545 101h2v2h-2zM545 245h2v2h-2zM545 415h2v2h-2zM546 101h2v2h-2zM546 245h2v2h-2zM546 416h2v2h-2zM547 101h2v2h-2zM547 102h2v2h-2zM547 245h2v2h-2zM547 415h2v2h-2zM548 101h2v2h-2zM548 246h2v2h-2zM548 416h2v2h-2zM549 101h2v2h-2zM549 246h2v2h-2zM549 417h2v2h-2zM550 100h2v2h-2zM550 245h2v2h-2zM550 415h2v2h-2zM550 416h2v2h-2zM551 100h2v2h-2zM551 245h2v2h-2zM551 418h2v2h-2zM552 101h2v2h-2zM552 244h2v2h-2zM552 418h2v2h-2zM553 100h2v2h-2zM553 244h2v2h-2zM553 417h2v2h-2zM554 99h2v2h-2zM554 243h2v2h-2zM554 417h2v2h-2zM554 418h2v2h-2zM555 98h2v2h-2zM555 99h2v2h-2zM555 243h2v2h-2zM555 417h2v2h-2zM556 99h2v2h-2zM556 244h2v2h-2zM556 418h2v2h-2zM557 99h2v2h-2zM557 244h2v2h-2zM557 418h2v2h-2zM558 99h2v2h-2zM558 244h2v2h-2zM558 418h2v2h-2zM558 419h2v2h-2zM559 99h2v2h-2zM559 245h2v2h-2zM559 419h2v2h-2zM560 99h2v2h-2zM560 244h2v2h-2zM560 418h2v2h-2zM561 100h2v2h-2zM561 245h2v2h-2zM561 418h2v2h-2zM562 99h2v2h-2zM562 246h2v2h-2zM562 418h2v2h-2zM562 419h2v2h-2zM563 100h2v2h-2zM563 246h2v2h-2zM563 418h2v2h-2zM564 100h2v2h-2zM564 247h2v2h-2zM564 419h2v2h-2zM565 100h2v2h-2zM565 248h2v2h-2zM565 418h2v2h-2zM566 100h2v2h-2zM566 246h2v2h-2zM566 419h2v2h-2zM566 420h2v2h-2zM567 100h2v2h-2zM567 246h2v2h-2zM567 247h2v2h-2zM567 420h2v2h-2zM568 101h2v2h-2zM568 248h2v2h-2zM568 420h2v2h-2zM569 100h2v2h-2zM569 248h2v2h-2zM569 420h2v2h-2zM570 100h2v2h-2zM570 248h2v2h-2zM570 420h2v2h-2zM571 100h2v2h-2zM571 248h2v2h-2zM571 420h2v2h-2zM572 100h2v2h-2zM572 248h2v2h-2zM572 421h2v2h-2zM573 100h2v2h-2zM573 249h2v2h-2zM573 421h2v2h-2zM574 100h2v2h-2zM574 249h2v2h-2zM574 421h2v2h-2zM575 100h2v2h-2zM575 250h2v2h-2zM575 422h2v2h-2zM576 100h2v2h-2zM576 251h2v2h-2zM576 422h2v2h-2zM577 99h2v2h-2zM577 251h2v2h-2zM577 421h2v2h-2zM578 100h2v2h-2zM578 252h2v2h-2zM578 421h2v2h-2zM579 98h2v2h-2zM579 100h2v2h-2zM579 251h2v2h-2zM579 252h2v2h-2zM579 421h2v2h-2zM580 99h2v2h-2zM580 251h2v2h-2zM580 421h2v2h-2zM581 98h2v2h-2zM581 250h2v2h-2zM581 422h2v2h-2zM582 98h2v2h-2zM582 250h2v2h-2zM582 421h2v2h-2zM582 422h2v2h-2zM583 97h2v2h-2zM583 98h2v2h-2zM583 249h2v2h-2zM583 421h2v2h-2zM584 97h2v2h-2zM584 251h2v2h-2zM584 422h2v2h-2zM585 97h2v2h-2zM585 250h2v2h-2zM585 422h2v2h-2zM586 97h2v2h-2zM586 252h2v2h-2zM586 421h2v2h-2zM586 422h2v2h-2zM587 97h2v2h-2zM587 252h2v2h-2zM587 422h2v2h-2zM588 97h2v2h-2zM588 252h2v2h-2zM588 422h2v2h-2zM589 97h2v2h-2zM589 253h2v2h-2zM589 422h2v2h-2zM590 97h2v2h-2zM590 252h2v2h-2zM590 422h2v2h-2zM591 97h2v2h-2zM591 98h2v2h-2zM591 252h2v2h-2zM591 253h2v2h-2zM591 422h2v2h-2zM592 98h2v2h-2zM592 252h2v2h-2zM592 421h2v2h-2zM593 98h2v2h-2zM593 252h2v2h-2zM593 422h2v2h-2zM594 98h2v2h-2zM594 252h2v2h-2zM594 421h2v2h-2zM594 423h2v2h-2zM595 98h2v2h-2zM595 251h2v2h-2zM595 252h2v2h-2zM595 422h2v2h-2zM596 98h2v2h-2zM596 252h2v2h-2zM596 422h2v2h-2zM597 99h2v2h-2zM597 251h2v2h-2zM597 421h2v2h-2zM598 99h2v2h-2zM598 251h2v2h-2zM598 421h2v2h-2zM598 422h2v2h-2zM599 99h2v2h-2zM599 250h2v2h-2zM599 251h2v2h-2zM599 421h2v2h-2zM600 99h2v2h-2zM600 251h2v2h-2zM600 422h2v2h-2zM601 99h2v2h-2zM601 250h2v2h-2zM601 420h2v2h-2zM602 99h2v2h-2zM602 249h2v2h-2zM602 422h2v2h-2zM603 98h2v2h-2zM603 99h2v2h-2zM603 249h2v2h-2zM603 423h2v2h-2zM604 98h2v2h-2zM604 248h2v2h-2zM604 422h2v2h-2zM605 98h2v2h-2zM605 248h2v2h-2zM605 423h2v2h-2zM606 98h2v2h-2zM606 247h2v2h-2zM606 422h2v2h-2zM606 423h2v2h-2zM607 96h2v2h-2zM607 97h2v2h-2zM607 246h2v2h-2zM607 247h2v2h-2zM607 423h2v2h-2zM608 95h2v2h-2zM608 246h2v2h-2zM608 423h2v2h-2zM609 95h2v2h-2zM609 247h2v2h-2zM609 423h2v2h-2zM610 94h2v2h-2zM610 248h2v2h-2zM610 423h2v2h-2zM611 93h2v2h-2zM611 95h2v2h-2zM611 247h2v2h-2zM611 249h2v2h-2zM611 423h2v2h-2zM612 94h2v2h-2zM612 249h2v2h-2zM612 423h2v2h-2zM613 94h2v2h-2zM613 251h2v2h-2zM613 423h2v2h-2zM614 95h2v2h-2zM614 252h2v2h-2zM614 423h2v2h-2zM614 424h2v2h-2zM615 94h2v2h-2zM615 95h2v2h-2zM615 253h2v2h-2zM615 424h2v2h-2zM616 95h2v2h-2zM616 254h2v2h-2zM616 423h2v2h-2zM617 95h2v2h-2zM617 255h2v2h-2zM617 423h2v2h-2zM618 96h2v2h-2zM618 254h2v2h-2zM618 423h2v2h-2zM619 97h2v2h-2zM619 255h2v2h-2zM619 256h2v2h-2zM619 423h2v2h-2zM620 97h2v2h-2zM620 255h2v2h-2zM620 424h2v2h-2zM621 97h2v2h-2zM621 255h2v2h-2zM621 423h2v2h-2zM622 97h2v2h-2zM622 255h2v2h-2zM622 423h2v2h-2zM623 98h2v2h-2zM623 253h2v2h-2zM623 254h2v2h-2zM623 423h2v2h-2zM624 98h2v2h-2zM624 252h2v2h-2zM624 424h2v2h-2zM625 98h2v2h-2zM625 251h2v2h-2zM625 423h2v2h-2zM626 98h2v2h-2zM626 252h2v2h-2zM626 422h2v2h-2zM626 423h2v2h-2zM627 97h2v2h-2zM627 250h2v2h-2zM627 423h2v2h-2zM628 98h2v2h-2zM628 249h2v2h-2zM628 424h2v2h-2zM629 97h2v2h-2zM629 249h2v2h-2zM629 424h2v2h-2zM630 96h2v2h-2zM630 249h2v2h-2zM630 424h2v2h-2zM630 425h2v2h-2zM631 96h2v2h-2zM631 248h2v2h-2zM631 424h2v2h-2zM632 96h2v2h-2zM632 249h2v2h-2zM632 425h2v2h-2zM633 95h2v2h-2zM633 250h2v2h-2zM633 426h2v2h-2zM634 95h2v2h-2zM634 251h2v2h-2zM634 425h2v2h-2zM634 426h2v2h-2zM635 95h2v2h-2zM635 250h2v2h-2zM635 252h2v2h-2zM635 425h2v2h-2zM636 94h2v2h-2zM636 252h2v2h-2zM636 426h2v2h-2zM637 95h2v2h-2zM637 253h2v2h-2zM637 425h2v2h-2zM638 95h2v2h-2zM638 255h2v2h-2zM638 426h2v2h-2zM639 96h2v2h-2zM639 255h2v2h-2zM639 425h2v2h-2zM640 96h2v2h-2zM640 257h2v2h-2zM640 424h2v2h-2zM641 97h2v2h-2zM641 258h2v2h-2zM641 424h2v2h-2zM642 97h2v2h-2zM642 260h2v2h-2zM642 424h2v2h-2zM642 425h2v2h-2zM643 97h2v2h-2zM643 98h2v2h-2zM643 260h2v2h-2zM643 261h2v2h-2zM643 424h2v2h-2zM644 99h2v2h-2zM644 259h2v2h-2zM644 424h2v2h-2zM645 98h2v2h-2zM645 259h2v2h-2zM645 424h2v2h-2zM646 99h2v2h-2zM646 257h2v2h-2zM646 424h2v2h-2zM646 425h2v2h-2zM647 99h2v2h-2zM647 258h2v2h-2zM647 424h2v2h-2zM648 101h2v2h-2zM648 256h2v2h-2zM648 425h2v2h-2zM649 101h2v2h-2zM649 255h2v2h-2zM649 423h2v2h-2zM650 103h2v2h-2zM650 255h2v2h-2zM650 424h2v2h-2zM650 425h2v2h-2zM651 102h2v2h-2zM651 253h2v2h-2zM651 254h2v2h-2zM651 424h2v2h-2zM652 103h2v2h-2zM652 251h2v2h-2zM652 424h2v2h-2zM652 425h2v2h-2zM653 103h2v2h-2zM653 251h2v2h-2zM653 424h2v2h-2zM654 102h2v2h-2zM654 252h2v2h-2zM654 424h2v2h-2zM654 425h2v2h-2zM655 103h2v2h-2zM655 251h2v2h-2zM655 252h2v2h-2zM655 425h2v2h-2zM656 102h2v2h-2zM656 252h2v2h-2zM656 424h2v2h-2zM657 103h2v2h-2zM657 253h2v2h-2zM657 423h2v2h-2zM657 425h2v2h-2zM658 102h2v2h-2zM658 253h2v2h-2zM658 424h2v2h-2zM658 425h2v2h-2zM659 102h2v2h-2zM659 103h2v2h-2zM659 252h2v2h-2zM659 425h2v2h-2zM660 103h2v2h-2zM660 252h2v2h-2zM660 425h2v2h-2zM661 103h2v2h-2zM661 251h2v2h-2zM661 423h2v2h-2zM661 425h2v2h-2zM662 103h2v2h-2zM662 251h2v2h-2zM662 425h2v2h-2zM662 426h2v2h-2zM663 102h2v2h-2zM663 250h2v2h-2zM663 251h2v2h-2zM663 424h2v2h-2zM663 425h2v2h-2zM664 103h2v2h-2zM664 249h2v2h-2zM664 425h2v2h-2zM664 427h2v2h-2zM665 101h2v2h-2zM665 248h2v2h-2zM665 424h2v2h-2zM665 426h2v2h-2zM666 102h2v2h-2zM666 248h2v2h-2zM666 425h2v2h-2zM667 100h2v2h-2zM667 248h2v2h-2zM667 423h2v2h-2zM667 426h2v2h-2zM668 100h2v2h-2zM668 249h2v2h-2zM668 425h2v2h-2zM668 427h2v2h-2zM669 100h2v2h-2zM669 250h2v2h-2zM669 426h2v2h-2zM670 99h2v2h-2zM670 250h2v2h-2zM670 425h2v2h-2zM670 426h2v2h-2zM671 99h2v2h-2zM671 100h2v2h-2zM671 249h2v2h-2zM671 424h2v2h-2zM671 425h2v2h-2zM672 100h2v2h-2zM672 248h2v2h-2zM672 424h2v2h-2zM672 426h2v2h-2zM673 100h2v2h-2zM673 248h2v2h-2zM673 424h2v2h-2zM673 427h2v2h-2zM674 100h2v2h-2zM674 248h2v2h-2zM674 425h2v2h-2zM674 426h2v2h-2zM675 98h2v2h-2zM675 99h2v2h-2zM675 247h2v2h-2zM675 248h2v2h-2zM675 424h2v2h-2zM675 425h2v2h-2zM676 97h2v2h-2zM676 248h2v2h-2zM676 427h2v2h-2zM677 96h2v2h-2zM677 247h2v2h-2zM677 425h2v2h-2zM678 95h2v2h-2zM678 248h2v2h-2zM678 426h2v2h-2zM678 427h2v2h-2zM679 93h2v2h-2zM679 249h2v2h-2zM679 250h2v2h-2zM679 428h2v2h-2zM680 92h2v2h-2zM680 250h2v2h-2zM680 425h2v2h-2zM680 426h2v2h-2zM681 93h2v2h-2zM681 251h2v2h-2zM681 426h2v2h-2zM681 427h2v2h-2zM682 92h2v2h-2zM682 252h2v2h-2zM682 426h2v2h-2zM683 93h2v2h-2zM683 252h2v2h-2zM683 253h2v2h-2zM683 424h2v2h-2zM683 426h2v2h-2zM684 92h2v2h-2zM684 254h2v2h-2zM684 426h2v2h-2zM685 92h2v2h-2zM685 254h2v2h-2zM685 425h2v2h-2zM685 426h2v2h-2zM686 92h2v2h-2zM686 253h2v2h-2zM686 426h2v2h-2zM687 91h2v2h-2zM687 254h2v2h-2zM687 428h2v2h-2zM688 92h2v2h-2zM688 254h2v2h-2zM688 426h2v2h-2zM689 91h2v2h-2zM689 254h2v2h-2zM689 424h2v2h-2zM689 425h2v2h-2zM690 91h2v2h-2zM690 254h2v2h-2zM690 426h2v2h-2zM690 428h2v2h-2zM691 90h2v2h-2zM691 255h2v2h-2zM691 425h2v2h-2zM691 426h2v2h-2zM692 90h2v2h-2zM692 255h2v2h-2zM692 426h2v2h-2zM692 428h2v2h-2zM693 90h2v2h-2zM693 255h2v2h-2zM693 427h2v2h-2zM694 90h2v2h-2zM694 255h2v2h-2zM694 425h2v2h-2zM694 426h2v2h-2zM695 89h2v2h-2zM695 255h2v2h-2zM695 256h2v2h-2zM695 426h2v2h-2zM695 427h2v2h-2zM696 90h2v2h-2zM696 256h2v2h-2zM696 426h2v2h-2zM696 427h2v2h-2zM697 89h2v2h-2zM697 256h2v2h-2zM697 426h2v2h-2zM697 427h2v2h-2zM698 89h2v2h-2zM698 256h2v2h-2zM698 427h2v2h-2zM698 428h2v2h-2zM699 90h2v2h-2zM699 256h2v2h-2zM699 257h2v2h-2zM699 426h2v2h-2zM700 89h2v2h-2zM700 255h2v2h-2zM700 256h2v2h-2zM700 426h2v2h-2zM701 90h2v2h-2zM701 256h2v2h-2zM701 259h2v2h-2zM701 427h2v2h-2zM701 428h2v2h-2zM702 90h2v2h-2zM702 256h2v2h-2zM702 425h2v2h-2zM702 427h2v2h-2zM703 90h2v2h-2zM703 258h2v2h-2zM703 259h2v2h-2zM703 426h2v2h-2zM703 427h2v2h-2zM704 90h2v2h-2zM704 258h2v2h-2zM704 260h2v2h-2zM704 425h2v2h-2zM704 426h2v2h-2zM705 89h2v2h-2zM705 257h2v2h-2zM705 258h2v2h-2zM705 428h2v2h-2zM705 429h2v2h-2zM706 90h2v2h-2zM706 256h2v2h-2zM706 258h2v2h-2zM706 427h2v2h-2zM706 429h2v2h-2zM707 89h2v2h-2zM707 260h2v2h-2zM707 426h2v2h-2zM707 428h2v2h-2zM708 89h2v2h-2zM708 256h2v2h-2zM708 260h2v2h-2zM708 428h2v2h-2zM709 89h2v2h-2zM709 257h2v2h-2zM709 258h2v2h-2zM709 427h2v2h-2zM709 428h2v2h-2zM710 89h2v2h-2zM710 256h2v2h-2zM710 259h2v2h-2zM710 428h2v2h-2zM710 430h2v2h-2zM711 89h2v2h-2zM711 258h2v2h-2zM711 260h2v2h-2zM711 429h2v2h-2zM712 88h2v2h-2zM712 261h2v2h-2zM712 428h2v2h-2zM712 429h2v2h-2zM713 89h2v2h-2zM713 259h2v2h-2zM713 430h2v2h-2zM713 431h2v2h-2zM714 89h2v2h-2zM714 260h2v2h-2zM714 262h2v2h-2zM714 430h2v2h-2zM714 432h2v2h-2zM715 89h2v2h-2zM715 260h2v2h-2zM715 428h2v2h-2zM715 429h2v2h-2zM716 89h2v2h-2zM716 262h2v2h-2zM716 431h2v2h-2zM716 432h2v2h-2zM717 89h2v2h-2zM717 262h2v2h-2zM717 430h2v2h-2zM717 431h2v2h-2zM718 89h2v2h-2zM718 262h2v2h-2zM718 263h2v2h-2zM718 429h2v2h-2zM718 430h2v2h-2zM719 89h2v2h-2zM719 264h2v2h-2zM719 429h2v2h-2zM719 430h2v2h-2zM720 89h2v2h-2zM720 262h2v2h-2zM720 263h2v2h-2zM720 429h2v2h-2zM720 430h2v2h-2zM721 89h2v2h-2zM721 263h2v2h-2zM721 264h2v2h-2zM721 430h2v2h-2zM721 431h2v2h-2zM722 89h2v2h-2zM722 263h2v2h-2zM722 266h2v2h-2zM722 430h2v2h-2zM723 89h2v2h-2zM723 262h2v2h-2zM723 264h2v2h-2zM723 430h2v2h-2zM723 431h2v2h-2zM724 89h2v2h-2zM724 264h2v2h-2zM724 430h2v2h-2zM724 432h2v2h-2zM725 89h2v2h-2zM725 265h2v2h-2zM725 268h2v2h-2zM725 430h2v2h-2zM725 431h2v2h-2zM726 90h2v2h-2zM726 264h2v2h-2zM726 265h2v2h-2zM726 430h2v2h-2zM726 431h2v2h-2zM727 89h2v2h-2zM727 265h2v2h-2zM727 430h2v2h-2zM727 432h2v2h-2zM728 89h2v2h-2zM728 265h2v2h-2zM728 269h2v2h-2zM728 429h2v2h-2zM728 431h2v2h-2zM729 89h2v2h-2zM729 268h2v2h-2zM729 269h2v2h-2zM729 431h2v2h-2zM730 89h2v2h-2zM730 269h2v2h-2zM730 271h2v2h-2zM730 430h2v2h-2zM730 431h2v2h-2zM731 89h2v2h-2zM731 269h2v2h-2zM731 270h2v2h-2zM731 431h2v2h-2zM731 433h2v2h-2zM732 89h2v2h-2zM732 270h2v2h-2zM732 431h2v2h-2zM732 432h2v2h-2zM733 88h2v2h-2zM733 269h2v2h-2zM733 430h2v2h-2zM734 89h2v2h-2zM734 269h2v2h-2zM734 270h2v2h-2zM734 431h2v2h-2zM734 432h2v2h-2zM735 88h2v2h-2zM735 89h2v2h-2zM735 268h2v2h-2zM735 272h2v2h-2zM735 431h2v2h-2zM735 434h2v2h-2zM736 89h2v2h-2zM736 267h2v2h-2zM736 269h2v2h-2zM736 428h2v2h-2zM736 432h2v2h-2zM737 89h2v2h-2zM737 268h2v2h-2zM737 269h2v2h-2zM737 428h2v2h-2zM737 430h2v2h-2zM738 89h2v2h-2zM738 268h2v2h-2zM738 269h2v2h-2zM738 433h2v2h-2zM738 434h2v2h-2zM739 89h2v2h-2zM739 268h2v2h-2zM739 270h2v2h-2zM739 432h2v2h-2zM740 89h2v2h-2zM740 267h2v2h-2zM740 269h2v2h-2zM740 431h2v2h-2zM740 432h2v2h-2zM741 90h2v2h-2zM741 268h2v2h-2zM741 270h2v2h-2zM741 430h2v2h-2zM742 89h2v2h-2zM742 269h2v2h-2zM742 432h2v2h-2zM743 89h2v2h-2zM743 270h2v2h-2zM743 273h2v2h-2zM743 431h2v2h-2zM743 433h2v2h-2zM744 89h2v2h-2zM744 268h2v2h-2zM744 269h2v2h-2zM744 431h2v2h-2zM744 432h2v2h-2zM745 89h2v2h-2zM745 268h2v2h-2zM745 430h2v2h-2zM745 431h2v2h-2zM746 90h2v2h-2zM746 270h2v2h-2zM746 271h2v2h-2zM746 431h2v2h-2zM746 432h2v2h-2zM747 88h2v2h-2zM747 90h2v2h-2zM747 266h2v2h-2zM747 268h2v2h-2zM747 431h2v2h-2zM747 432h2v2h-2zM748 89h2v2h-2zM748 269h2v2h-2zM748 271h2v2h-2zM748 431h2v2h-2zM748 433h2v2h-2zM749 89h2v2h-2zM749 266h2v2h-2zM749 267h2v2h-2zM749 429h2v2h-2zM749 432h2v2h-2zM750 89h2v2h-2zM750 267h2v2h-2zM750 269h2v2h-2zM750 429h2v2h-2zM750 433h2v2h-2zM751 88h2v2h-2zM751 89h2v2h-2zM751 265h2v2h-2zM751 266h2v2h-2zM751 431h2v2h-2zM751 432h2v2h-2zM752 88h2v2h-2zM752 262h2v2h-2zM752 265h2v2h-2zM752 431h2v2h-2zM752 432h2v2h-2zM753 88h2v2h-2zM753 265h2v2h-2zM753 266h2v2h-2zM753 432h2v2h-2zM753 433h2v2h-2zM754 88h2v2h-2zM754 264h2v2h-2zM754 266h2v2h-2zM754 430h2v2h-2zM754 431h2v2h-2zM755 87h2v2h-2zM755 264h2v2h-2zM755 431h2v2h-2zM756 88h2v2h-2zM756 261h2v2h-2zM756 263h2v2h-2zM756 429h2v2h-2zM756 432h2v2h-2zM757 87h2v2h-2zM757 263h2v2h-2zM757 264h2v2h-2zM757 429h2v2h-2zM757 431h2v2h-2zM758 87h2v2h-2zM758 261h2v2h-2zM758 263h2v2h-2zM758 432h2v2h-2zM759 87h2v2h-2zM759 262h2v2h-2zM759 432h2v2h-2zM759 433h2v2h-2zM760 87h2v2h-2zM760 260h2v2h-2zM760 263h2v2h-2zM760 430h2v2h-2zM760 431h2v2h-2zM761 87h2v2h-2zM761 258h2v2h-2zM761 260h2v2h-2zM761 431h2v2h-2zM761 432h2v2h-2zM762 87h2v2h-2zM762 260h2v2h-2zM762 262h2v2h-2zM762 431h2v2h-2zM762 432h2v2h-2zM763 87h2v2h-2zM763 258h2v2h-2zM763 261h2v2h-2zM763 430h2v2h-2zM763 434h2v2h-2zM764 87h2v2h-2zM764 260h2v2h-2zM764 261h2v2h-2zM764 431h2v2h-2zM765 87h2v2h-2zM765 257h2v2h-2zM765 259h2v2h-2zM765 430h2v2h-2zM765 431h2v2h-2zM766 87h2v2h-2zM766 259h2v2h-2zM766 260h2v2h-2zM766 430h2v2h-2zM766 432h2v2h-2zM767 85h2v2h-2zM767 87h2v2h-2zM767 256h2v2h-2zM767 260h2v2h-2zM767 430h2v2h-2zM767 432h2v2h-2zM768 85h2v2h-2zM768 253h2v2h-2zM768 257h2v2h-2zM768 431h2v2h-2zM769 84h2v2h-2zM769 255h2v2h-2zM769 256h2v2h-2zM769 431h2v2h-2zM769 432h2v2h-2zM770 85h2v2h-2zM770 256h2v2h-2zM770 430h2v2h-2zM770 434h2v2h-2zM771 84h2v2h-2zM771 253h2v2h-2zM771 255h2v2h-2zM771 429h2v2h-2zM771 430h2v2h-2zM772 84h2v2h-2zM772 253h2v2h-2zM772 255h2v2h-2zM772 429h2v2h-2zM772 431h2v2h-2zM773 83h2v2h-2zM773 252h2v2h-2zM773 253h2v2h-2zM773 431h2v2h-2zM773 432h2v2h-2zM774 84h2v2h-2zM774 253h2v2h-2zM774 430h2v2h-2zM774 431h2v2h-2zM775 83h2v2h-2zM775 84h2v2h-2zM775 254h2v2h-2zM775 430h2v2h-2zM775 431h2v2h-2zM776 84h2v2h-2zM776 252h2v2h-2zM776 255h2v2h-2zM776 430h2v2h-2zM776 433h2v2h-2zM777 85h2v2h-2zM777 254h2v2h-2zM777 255h2v2h-2zM777 431h2v2h-2zM778 84h2v2h-2zM778 254h2v2h-2zM778 255h2v2h-2zM778 429h2v2h-2zM778 433h2v2h-2zM779 85h2v2h-2zM779 86h2v2h-2zM779 256h2v2h-2zM779 260h2v2h-2zM779 430h2v2h-2zM779 431h2v2h-2zM780 88h2v2h-2zM780 257h2v2h-2zM780 259h2v2h-2zM780 430h2v2h-2zM780 431h2v2h-2zM781 89h2v2h-2zM781 262h2v2h-2zM781 432h2v2h-2zM782 91h2v2h-2zM782 264h2v2h-2zM782 267h2v2h-2zM782 430h2v2h-2zM783 91h2v2h-2zM783 92h2v2h-2zM783 263h2v2h-2zM783 430h2v2h-2zM783 431h2v2h-2zM784 89h2v2h-2zM784 262h2v2h-2zM784 263h2v2h-2zM784 431h2v2h-2zM784 434h2v2h-2zM785 88h2v2h-2zM785 261h2v2h-2zM785 262h2v2h-2zM785 431h2v2h-2zM786 88h2v2h-2zM786 260h2v2h-2zM786 262h2v2h-2zM786 431h2v2h-2zM786 432h2v2h-2zM787 88h2v2h-2zM787 260h2v2h-2zM787 261h2v2h-2zM787 430h2v2h-2zM787 432h2v2h-2zM788 88h2v2h-2zM788 258h2v2h-2zM788 260h2v2h-2zM788 430h2v2h-2zM788 431h2v2h-2zM789 87h2v2h-2zM789 257h2v2h-2zM789 258h2v2h-2zM789 430h2v2h-2zM789 433h2v2h-2zM790 87h2v2h-2zM790 259h2v2h-2zM790 261h2v2h-2zM790 432h2v2h-2zM790 433h2v2h-2zM791 87h2v2h-2zM791 259h2v2h-2zM791 260h2v2h-2zM791 430h2v2h-2zM791 432h2v2h-2zM792 87h2v2h-2zM792 259h2v2h-2zM792 261h2v2h-2zM792 431h2v2h-2zM792 432h2v2h-2zM793 86h2v2h-2zM793 260h2v2h-2zM793 261h2v2h-2zM793 430h2v2h-2zM794 86h2v2h-2zM794 261h2v2h-2zM794 262h2v2h-2zM794 430h2v2h-2zM794 431h2v2h-2zM795 85h2v2h-2zM795 86h2v2h-2zM795 262h2v2h-2zM795 263h2v2h-2zM795 431h2v2h-2zM795 433h2v2h-2zM796 85h2v2h-2zM796 263h2v2h-2zM796 264h2v2h-2zM796 430h2v2h-2zM796 432h2v2h-2zM797 85h2v2h-2zM797 262h2v2h-2zM797 263h2v2h-2zM797 432h2v2h-2zM798 86h2v2h-2zM798 262h2v2h-2zM798 264h2v2h-2zM798 430h2v2h-2zM798 431h2v2h-2zM799 87h2v2h-2zM799 264h2v2h-2zM799 265h2v2h-2zM799 432h2v2h-2zM799 433h2v2h-2zM800 87h2v2h-2zM800 261h2v2h-2zM800 263h2v2h-2zM800 430h2v2h-2zM800 431h2v2h-2zM801 87h2v2h-2zM801 262h2v2h-2zM801 264h2v2h-2zM801 431h2v2h-2zM801 434h2v2h-2zM802 88h2v2h-2zM802 263h2v2h-2zM802 265h2v2h-2zM802 431h2v2h-2zM802 433h2v2h-2zM803 87h2v2h-2zM803 88h2v2h-2zM803 263h2v2h-2zM803 431h2v2h-2zM803 432h2v2h-2zM804 88h2v2h-2zM804 263h2v2h-2zM804 264h2v2h-2zM804 432h2v2h-2zM805 88h2v2h-2zM805 264h2v2h-2zM805 265h2v2h-2zM805 430h2v2h-2zM805 431h2v2h-2zM806 88h2v2h-2zM806 263h2v2h-2zM806 266h2v2h-2zM806 429h2v2h-2zM806 430h2v2h-2zM807 88h2v2h-2zM807 89h2v2h-2zM807 263h2v2h-2zM807 265h2v2h-2zM807 429h2v2h-2zM807 431h2v2h-2zM808 88h2v2h-2zM808 262h2v2h-2zM808 264h2v2h-2zM808 432h2v2h-2zM808 433h2v2h-2zM809 89h2v2h-2zM809 265h2v2h-2zM809 266h2v2h-2zM809 432h2v2h-2zM809 434h2v2h-2zM810 89h2v2h-2zM810 264h2v2h-2zM810 265h2v2h-2zM810 431h2v2h-2zM810 433h2v2h-2zM811 89h2v2h-2zM811 265h2v2h-2zM811 267h2v2h-2zM811 431h2v2h-2zM811 432h2v2h-2zM812 431h2v2h-2zM814 267h2v2h-2zM815 90h2v2h-2zM815 91h2v2h-2zM815 266h2v2h-2zM815 267h2v2h-2zM815 431h2v2h-2zM816 90h2v2h-2zM816 265h2v2h-2zM816 429h2v2h-2zM816 432h2v2h-2zM817 90h2v2h-2zM817 267h2v2h-2zM817 268h2v2h-2zM817 431h2v2h-2zM818 90h2v2h-2zM818 263h2v2h-2zM818 266h2v2h-2zM818 430h2v2h-2zM818 432h2v2h-2zM819 90h2v2h-2zM819 91h2v2h-2zM819 264h2v2h-2zM819 430h2v2h-2zM819 432h2v2h-2zM820 89h2v2h-2zM820 264h2v2h-2zM820 267h2v2h-2zM820 430h2v2h-2zM821 89h2v2h-2zM821 266h2v2h-2zM821 267h2v2h-2zM821 431h2v2h-2zM822 90h2v2h-2zM822 265h2v2h-2zM822 267h2v2h-2zM822 432h2v2h-2zM822 433h2v2h-2zM823 89h2v2h-2zM823 265h2v2h-2zM823 267h2v2h-2zM823 431h2v2h-2zM823 432h2v2h-2zM824 90h2v2h-2zM824 265h2v2h-2zM824 267h2v2h-2zM824 431h2v2h-2zM824 433h2v2h-2zM825 89h2v2h-2zM825 266h2v2h-2zM825 267h2v2h-2zM825 432h2v2h-2zM825 434h2v2h-2zM826 88h2v2h-2zM826 263h2v2h-2zM826 267h2v2h-2zM826 430h2v2h-2zM826 432h2v2h-2zM827 88h2v2h-2zM827 89h2v2h-2zM827 266h2v2h-2zM827 267h2v2h-2zM827 433h2v2h-2zM828 89h2v2h-2zM828 265h2v2h-2zM828 266h2v2h-2zM828 432h2v2h-2zM828 433h2v2h-2zM829 88h2v2h-2zM829 263h2v2h-2zM829 264h2v2h-2zM829 433h2v2h-2zM829 434h2v2h-2zM830 89h2v2h-2zM830 265h2v2h-2zM830 266h2v2h-2zM830 430h2v2h-2zM830 431h2v2h-2zM831 89h2v2h-2zM831 264h2v2h-2zM831 266h2v2h-2zM831 432h2v2h-2zM831 433h2v2h-2zM832 88h2v2h-2zM832 266h2v2h-2zM832 429h2v2h-2zM832 433h2v2h-2zM833 88h2v2h-2zM833 267h2v2h-2zM833 432h2v2h-2zM834 89h2v2h-2zM834 265h2v2h-2zM834 266h2v2h-2zM834 431h2v2h-2zM834 433h2v2h-2zM835 89h2v2h-2zM835 266h2v2h-2zM835 432h2v2h-2zM835 433h2v2h-2zM836 89h2v2h-2zM836 264h2v2h-2zM836 265h2v2h-2zM836 431h2v2h-2zM836 433h2v2h-2zM837 89h2v2h-2zM837 264h2v2h-2zM837 265h2v2h-2zM837 431h2v2h-2zM837 432h2v2h-2zM838 89h2v2h-2zM838 265h2v2h-2zM838 433h2v2h-2zM839 88h2v2h-2zM839 89h2v2h-2zM839 264h2v2h-2zM839 265h2v2h-2zM839 430h2v2h-2zM839 431h2v2h-2zM840 89h2v2h-2zM840 264h2v2h-2zM840 265h2v2h-2zM840 430h2v2h-2zM840 432h2v2h-2zM841 89h2v2h-2zM841 264h2v2h-2zM841 266h2v2h-2zM841 430h2v2h-2zM842 89h2v2h-2zM842 265h2v2h-2zM842 266h2v2h-2zM842 430h2v2h-2zM842 433h2v2h-2zM843 87h2v2h-2zM843 88h2v2h-2zM843 264h2v2h-2zM843 265h2v2h-2zM843 429h2v2h-2zM843 432h2v2h-2zM844 88h2v2h-2zM844 265h2v2h-2zM844 430h2v2h-2zM844 432h2v2h-2zM845 89h2v2h-2zM845 264h2v2h-2zM845 267h2v2h-2zM845 432h2v2h-2zM845 433h2v2h-2zM846 87h2v2h-2zM846 265h2v2h-2zM846 267h2v2h-2zM846 431h2v2h-2zM846 432h2v2h-2zM847 87h2v2h-2zM847 264h2v2h-2zM847 265h2v2h-2zM847 431h2v2h-2zM847 432h2v2h-2zM848 87h2v2h-2zM848 265h2v2h-2zM848 266h2v2h-2zM848 431h2v2h-2zM848 433h2v2h-2zM849 87h2v2h-2zM849 264h2v2h-2zM849 265h2v2h-2zM849 431h2v2h-2zM850 88h2v2h-2zM850 266h2v2h-2zM850 267h2v2h-2zM850 431h2v2h-2zM850 433h2v2h-2zM851 88h2v2h-2zM851 89h2v2h-2zM851 264h2v2h-2zM851 265h2v2h-2zM851 431h2v2h-2zM851 432h2v2h-2zM852 89h2v2h-2zM852 264h2v2h-2zM852 266h2v2h-2zM852 429h2v2h-2zM852 433h2v2h-2zM853 90h2v2h-2zM853 264h2v2h-2zM853 265h2v2h-2zM853 429h2v2h-2zM853 430h2v2h-2zM854 90h2v2h-2zM854 265h2v2h-2zM854 268h2v2h-2zM854 429h2v2h-2zM854 432h2v2h-2zM855 90h2v2h-2zM855 91h2v2h-2zM855 265h2v2h-2zM855 432h2v2h-2zM855 434h2v2h-2zM856 91h2v2h-2zM856 265h2v2h-2zM856 267h2v2h-2zM856 432h2v2h-2zM856 433h2v2h-2zM857 91h2v2h-2zM857 264h2v2h-2zM857 265h2v2h-2zM857 432h2v2h-2zM858 91h2v2h-2zM858 264h2v2h-2zM858 267h2v2h-2zM858 432h2v2h-2zM858 434h2v2h-2zM859 91h2v2h-2zM859 92h2v2h-2zM859 264h2v2h-2zM859 266h2v2h-2zM859 431h2v2h-2zM859 433h2v2h-2zM860 92h2v2h-2zM860 265h2v2h-2zM860 266h2v2h-2zM860 430h2v2h-2zM860 432h2v2h-2zM861 92h2v2h-2zM861 265h2v2h-2zM861 267h2v2h-2zM861 431h2v2h-2zM861 434h2v2h-2zM862 93h2v2h-2zM862 264h2v2h-2zM862 266h2v2h-2zM862 431h2v2h-2zM862 432h2v2h-2zM863 92h2v2h-2zM863 93h2v2h-2zM863 269h2v2h-2zM863 431h2v2h-2zM863 432h2v2h-2zM864 94h2v2h-2zM864 267h2v2h-2zM864 269h2v2h-2zM864 431h2v2h-2zM865 94h2v2h-2zM865 266h2v2h-2zM865 267h2v2h-2zM865 429h2v2h-2zM865 431h2v2h-2zM866 94h2v2h-2zM866 267h2v2h-2zM866 269h2v2h-2zM866 433h2v2h-2zM867 94h2v2h-2zM867 266h2v2h-2zM867 269h2v2h-2zM867 431h2v2h-2zM868 94h2v2h-2zM868 267h2v2h-2zM868 269h2v2h-2zM868 431h2v2h-2zM868 433h2v2h-2zM869 94h2v2h-2zM869 267h2v2h-2zM869 269h2v2h-2zM869 431h2v2h-2zM869 433h2v2h-2zM870 94h2v2h-2zM870 267h2v2h-2zM870 269h2v2h-2zM870 432h2v2h-2zM871 94h2v2h-2zM871 268h2v2h-2zM871 270h2v2h-2zM871 432h2v2h-2zM871 433h2v2h-2zM872 94h2v2h-2zM872 268h2v2h-2zM872 431h2v2h-2zM872 432h2v2h-2zM873 95h2v2h-2zM873 268h2v2h-2zM873 271h2v2h-2zM873 431h2v2h-2zM873 433h2v2h-2zM874 94h2v2h-2zM874 268h2v2h-2zM874 270h2v2h-2zM874 431h2v2h-2zM874 432h2v2h-2zM875 95h2v2h-2zM875 269h2v2h-2zM875 270h2v2h-2zM875 430h2v2h-2zM875 432h2v2h-2zM876 95h2v2h-2zM876 269h2v2h-2zM876 270h2v2h-2zM876 429h2v2h-2zM876 431h2v2h-2zM877 96h2v2h-2zM877 268h2v2h-2zM877 269h2v2h-2zM877 430h2v2h-2zM877 431h2v2h-2zM878 95h2v2h-2zM878 271h2v2h-2zM878 272h2v2h-2zM878 431h2v2h-2zM878 432h2v2h-2zM879 95h2v2h-2zM879 269h2v2h-2zM879 272h2v2h-2zM879 430h2v2h-2zM879 431h2v2h-2zM880 95h2v2h-2zM880 268h2v2h-2zM880 272h2v2h-2zM880 431h2v2h-2zM880 434h2v2h-2zM881 95h2v2h-2zM881 271h2v2h-2zM881 272h2v2h-2zM881 430h2v2h-2zM882 95h2v2h-2zM882 271h2v2h-2zM882 430h2v2h-2zM883 95h2v2h-2zM883 271h2v2h-2zM883 272h2v2h-2zM883 430h2v2h-2zM883 431h2v2h-2zM884 95h2v2h-2zM884 268h2v2h-2zM884 270h2v2h-2zM884 431h2v2h-2zM885 96h2v2h-2zM885 268h2v2h-2zM885 270h2v2h-2zM885 431h2v2h-2zM885 432h2v2h-2zM886 96h2v2h-2zM886 270h2v2h-2zM886 271h2v2h-2zM886 431h2v2h-2zM887 96h2v2h-2zM887 268h2v2h-2zM887 269h2v2h-2zM887 428h2v2h-2zM887 431h2v2h-2zM888 95h2v2h-2zM888 268h2v2h-2zM888 270h2v2h-2zM888 430h2v2h-2zM889 95h2v2h-2zM889 268h2v2h-2zM889 430h2v2h-2zM889 431h2v2h-2zM890 94h2v2h-2zM890 268h2v2h-2zM890 270h2v2h-2zM890 431h2v2h-2zM891 94h2v2h-2zM891 268h2v2h-2zM891 429h2v2h-2zM891 431h2v2h-2zM892 93h2v2h-2zM892 263h2v2h-2zM892 267h2v2h-2zM892 428h2v2h-2zM892 431h2v2h-2zM893 90h2v2h-2zM893 248h2v2h-2zM893 254h2v2h-2zM893 431h2v2h-2zM893 432h2v2h-2zM894 80h2v2h-2zM894 82h2v2h-2zM894 247h2v2h-2zM894 251h2v2h-2zM894 428h2v2h-2zM894 431h2v2h-2zM895 80h2v2h-2zM895 248h2v2h-2zM895 249h2v2h-2zM895 429h2v2h-2zM895 431h2v2h-2zM896 78h2v2h-2zM896 80h2v2h-2zM896 247h2v2h-2zM896 429h2v2h-2zM896 430h2v2h-2zM897 80h2v2h-2zM897 249h2v2h-2zM897 251h2v2h-2zM897 426h2v2h-2zM897 428h2v2h-2zM898 79h2v2h-2zM898 80h2v2h-2zM898 81h2v2h-2zM898 249h2v2h-2zM898 250h2v2h-2zM898 428h2v2h-2zM690 57h3v2h-3zM813 57h3v2h-3zM690 193h3v2h-3zM813 193h3v2h-3zM690 330h3v2h-3zM813 330h3v2h-3z" fill="#000" shape-rendering="crispEdges"/>
<rect x="276" y="172" width="101" height="5.5" fill="#800080"/>
<rect x="677" y="172" width="104" height="5.5" fill="#800080"/>
<rect x="276" y="307.9" width="101" height="5.5" fill="#800080"/>
<rect x="677" y="307.9" width="104" height="5.5" fill="#800080"/>
<rect x="276" y="444.9" width="101" height="5.5" fill="#800080"/>
<rect x="677" y="444.9" width="104" height="5.5" fill="#800080"/>
<rect x="434" y="50.4" width="3" height="127.1" fill="#ff0000"/>
<rect x="702" y="50.4" width="3" height="127.1" fill="#ff0000"/>
<rect x="434" y="187.4" width="3" height="126" fill="#ff0000"/>
<rect x="702" y="187.4" width="3" height="126" fill="#ff0000"/>
<rect x="434" y="323.4" width="3" height="127" fill="#ff0000"/>
<rect x="702" y="323.4" width="3" height="127" fill="#ff0000"/>
<path d="M125.5 161.5H131.06M900.5 161.5H894.94M125.5 145.5H131.06M900.5 145.5H894.94M125.5 129.5H131.06M900.5 129.5H894.94M125.5 113.5H131.06M900.5 113.5H894.94M125.5 98.5H131.06M900.5 98.5H894.94M125.5 82.5H131.06M900.5 82.5H894.94M125.5 66.5H131.06M900.5 66.5H894.94M238.5 177.5V171.94M238.5 50.5V56.06M393.5 177.5V171.94M393.5 50.5V56.06M548.5 177.5V171.94M548.5 50.5V56.06M703.5 177.5V171.94M703.5 50.5V56.06M858.5 177.5V171.94M858.5 50.5V56.06M125.5 297.5H131.06M900.5 297.5H894.94M125.5 281.5H131.06M900.5 281.5H894.94M125.5 266.5H131.06M900.5 266.5H894.94M125.5 250.5H131.06M900.5 250.5H894.94M125.5 234.5H131.06M900.5 234.5H894.94M125.5 218.5H131.06M900.5 218.5H894.94M125.5 203.5H131.06M900.5 203.5H894.94M238.5 313.5V307.94M238.5 187.5V193.06M393.5 313.5V307.94M393.5 187.5V193.06M548.5 313.5V307.94M548.5 187.5V193.06M703.5 313.5V307.94M703.5 187.5V193.06M858.5 313.5V307.94M858.5 187.5V193.06M125.5 434.5H131.06M900.5 434.5H894.94M125.5 418.5H131.06M900.5 418.5H894.94M125.5 402.5H131.06M900.5 402.5H894.94M125.5 386.5H131.06M900.5 386.5H894.94M125.5 371.5H131.06M900.5 371.5H894.94M125.5 355.5H131.06M900.5 355.5H894.94M125.5 339.5H131.06M900.5 339.5H894.94M238.5 450.5V444.94M238.5 323.5V329.06M393.5 450.5V444.94M393.5 323.5V329.06M548.5 450.5V444.94M548.5 323.5V329.06M703.5 450.5V444.94M703.5 323.5V329.06M858.5 450.5V444.94M858.5 323.5V329.06" stroke="#000" stroke-width="0.7" fill="none"/>
<rect x="125.5" y="50.5" width="775" height="127" fill="none" stroke="#000" stroke-width="1.4"/>
<rect x="125.5" y="187.5" width="775" height="126" fill="none" stroke="#000" stroke-width="1.4"/>
<rect x="125.5" y="323.5" width="775" height="127" fill="none" stroke="#000" stroke-width="1.4"/>
<g font-family="Liberation Sans, sans-serif" font-size="12" fill="#000" style="opacity:0.999"><text x="120.2" y="70.39" text-anchor="end" font-size="12.4" textLength="8.2" lengthAdjust="spacingAndGlyphs">4</text><text x="120.2" y="102.16" text-anchor="end" font-size="12.4" textLength="8.2" lengthAdjust="spacingAndGlyphs">2</text><text x="120.2" y="133.94" text-anchor="end" font-size="12.4" textLength="8.2" lengthAdjust="spacingAndGlyphs">0</text><text x="120.2" y="165.71" text-anchor="end" font-size="12.4" textLength="11.6" lengthAdjust="spacingAndGlyphs">-2</text><text transform="translate(96.9 113.4) rotate(-90)" text-anchor="middle" textLength="80.5" lengthAdjust="spacingAndGlyphs">Log(p1 Rate)</text><text x="440.6" y="64.9" fill="#ff0000" textLength="73" lengthAdjust="spacingAndGlyphs">Interruption</text><text x="120.2" y="207.25" text-anchor="end" font-size="12.4" textLength="8.2" lengthAdjust="spacingAndGlyphs">4</text><text x="120.2" y="238.75" text-anchor="end" font-size="12.4" textLength="8.2" lengthAdjust="spacingAndGlyphs">2</text><text x="120.2" y="270.25" text-anchor="end" font-size="12.4" textLength="8.2" lengthAdjust="spacingAndGlyphs">0</text><text x="120.2" y="301.75" text-anchor="end" font-size="12.4" textLength="11.6" lengthAdjust="spacingAndGlyphs">-2</text><text transform="translate(96.9 249.3) rotate(-90)" text-anchor="middle" textLength="80.5" lengthAdjust="spacingAndGlyphs">Log(p2 Rate)</text><text x="440.6" y="201.9" fill="#ff0000" textLength="73" lengthAdjust="spacingAndGlyphs">Interruption</text><text x="120.2" y="343.38" text-anchor="end" font-size="12.4" textLength="8.2" lengthAdjust="spacingAndGlyphs">4</text><text x="120.2" y="375.12" text-anchor="end" font-size="12.4" textLength="8.2" lengthAdjust="spacingAndGlyphs">2</text><text x="120.2" y="406.88" text-anchor="end" font-size="12.4" textLength="8.2" lengthAdjust="spacingAndGlyphs">0</text><text x="120.2" y="438.62" text-anchor="end" font-size="12.4" textLength="11.6" lengthAdjust="spacingAndGlyphs">-2</text><text transform="translate(96.9 386.45) rotate(-90)" text-anchor="middle" textLength="80.5" lengthAdjust="spacingAndGlyphs">Log(p5 Rate)</text><text x="440.6" y="338.6" fill="#ff0000" textLength="73" lengthAdjust="spacingAndGlyphs">Interruption</text><text x="238.4" y="463.6" text-anchor="middle" textLength="22.5" lengthAdjust="spacingAndGlyphs">359</text><text x="393.4" y="463.6" text-anchor="middle" textLength="22.5" lengthAdjust="spacingAndGlyphs">360</text><text x="548.4" y="463.6" text-anchor="middle" textLength="22.5" lengthAdjust="spacingAndGlyphs">361</text><text x="703.4" y="463.6" text-anchor="middle" textLength="22.5" lengthAdjust="spacingAndGlyphs">362</text><text x="858.4" y="463.6" text-anchor="middle" textLength="22.5" lengthAdjust="spacingAndGlyphs">363</text><text x="512" y="481" text-anchor="middle" textLength="72.5" lengthAdjust="spacingAndGlyphs">Day of Year</text></g>
</svg>
</body></html>
